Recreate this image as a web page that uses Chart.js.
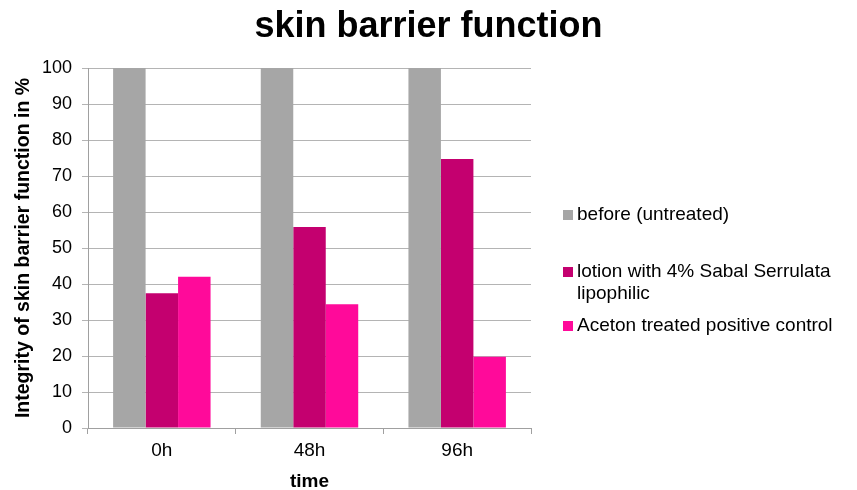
<!DOCTYPE html>
<html>
<head>
<meta charset="utf-8">
<script src="https://cdn.jsdelivr.net/npm/chart.js@4.4.1/dist/chart.umd.min.js"></script>
<style>
  html, body { margin: 0; padding: 0; background: #fff; }
  #wrap { width: 857px; height: 490px; }
</style>
</head>
<body>
<div id="wrap"><canvas id="barrier"></canvas></div>
<script>
const times = ['0h', '48h', '96h'];
const seriesNames = ['before (untreated)', 'lotion with 4% Sabal Serrulata lipophilic', 'Aceton treated positive control'];
const before = [100, 100, 100];
const lotion = [37.4, 55.8, 74.7];
const aceton = [42, 34.4, 19.8];
const yTicks = [0, 10, 20, 30, 40, 50, 60, 70, 80, 90, 100];

const colors = ['#A6A6A6', '#C4006F', '#FF0A9A'];
const font = 'Liberation Sans, Arial, sans-serif';

// title and legend drawn by hand: title centred on the whole canvas,
// and the long legend label wraps like the original
const decorations = {
    id: 'decorations',
    afterDraw(chart) {
        const c = chart.ctx;
        c.save();
        c.fillStyle = '#000';
        c.font = 'bold 36px ' + font;
        c.textAlign = 'center';
        c.textBaseline = 'alphabetic';
        c.fillText('skin barrier function', chart.width / 2, 37);

        const rows = [
            { lines: ['before (untreated)'], y: 215 },
            { lines: ['lotion with 4% Sabal Serrulata', 'lipophilic'], y: 272 },
            { lines: ['Aceton treated positive control'], y: 326 }
        ];
        c.font = '19px ' + font;
        c.textAlign = 'left';
        c.textBaseline = 'middle';
        chart.data.datasets.forEach((ds, i) => {
            const r = rows[i];
            c.fillStyle = ds.backgroundColor;
            c.fillRect(563, r.y - 5, 10, 10);
            c.fillStyle = '#000';
            r.lines.forEach((t, j) => c.fillText(t, 577, r.y + j * 22));
        });
        c.restore();
    }
};

new Chart(document.getElementById('barrier'), {
    type: 'bar',
    data: {
        labels: times,
        datasets: [
            { label: seriesNames[0], data: before, backgroundColor: colors[0] },
            { label: seriesNames[1], data: lotion, backgroundColor: colors[1] },
            { label: seriesNames[2], data: aceton, backgroundColor: colors[2] }
        ]
    },
    options: {
        responsive: true,
        maintainAspectRatio: false,
        animation: false,
        datasets: {
            bar: { categoryPercentage: 0.66, barPercentage: 1.0 }
        },
        layout: { padding: { left: 0, right: 326, top: 68, bottom: 0 } },
        scales: {
            x: {
                grid: { offset: true, drawOnChartArea: false, drawTicks: true, tickLength: 6, color: '#a0a0a0' },
                border: { color: '#a0a0a0' },
                ticks: { color: '#000', font: { family: font, size: 19 }, padding: 5 },
                title: { display: true, text: 'time', color: '#000', font: { family: font, size: 19, weight: 'bold' }, padding: { top: -3, bottom: -3 } },
                afterFit(scale) { scale.height = 62; }
            },
            y: {
                min: 0,
                max: 100,
                afterBuildTicks(scale) { scale.ticks = yTicks.map(v => ({ value: v })); },
                grid: { color: '#b4b4b4', tickLength: 6 },
                border: { color: '#a0a0a0' },
                ticks: { color: '#000', font: { family: font, size: 18 }, padding: 10 },
                title: { display: true, text: 'Integrity of skin barrier function in %', color: '#000', font: { family: font, size: 19.5, weight: 'bold' }, padding: { top: 12, bottom: 0 } },
                afterFit(scale) { scale.width = 88; }
            }
        },
        plugins: {
            legend: { display: false },
            tooltip: { enabled: false },
            title: { display: false }
        }
    },
    plugins: [decorations]
});
</script>
</body>
</html>
